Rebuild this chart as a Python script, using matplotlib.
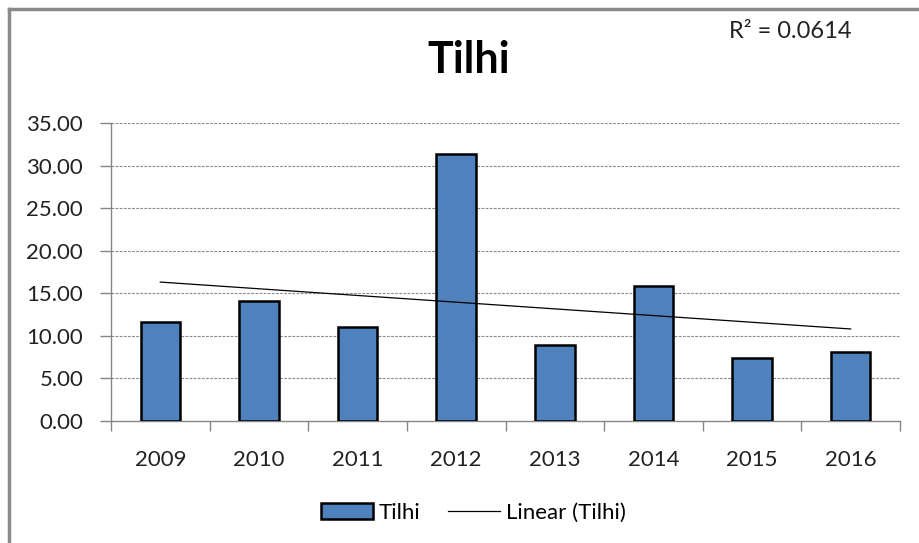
import numpy as np
import matplotlib.pyplot as plt
from matplotlib.lines import Line2D

# data
years = ['2009', '2010', '2011', '2012', '2013', '2014', '2015', '2016']
tilhi = [11.65, 14.1, 11.05, 31.35, 8.95, 15.85, 7.45, 8.1]
r2_label = 'R² = 0.0614'
yticks = [0, 5, 10, 15, 20, 25, 30, 35]

plt.rcParams['font.family'] = ['Lato', 'DejaVu Sans']

fig = plt.figure(figsize=(9.19, 5.43), dpi=100)
ax = fig.add_axes([111/919, 1 - 421/543, (900 - 111)/919, (421 - 123)/543])

x = np.arange(len(years))
bars = ax.bar(x, tilhi, width=0.4, color='#4F81BD', edgecolor='black',
              linewidth=1.8, zorder=3, label='Tilhi')

# linear trend, like the excel trendline
k, b = np.polyfit(x, tilhi, 1)
trend, = ax.plot(x, k * x + b, color='black', lw=0.9, zorder=4,
                 label='Linear (Tilhi)')

ax.set_xlim(-0.5, len(years) - 0.5)
ax.set_ylim(0, 35)
ax.set_yticks(yticks)
ax.set_yticklabels(['%.2f' % v for v in yticks])
ax.set_xticks(x)
ax.set_xticklabels(years)
ax.set_xticks(np.arange(-0.5, len(years)), minor=True)

ax.tick_params(axis='y', length=8, width=1, color='#868686', labelsize=16,
               pad=12, labelcolor='#222222')
ax.tick_params(axis='x', which='major', length=0, labelsize=16, pad=21,
               labelcolor='#222222')
ax.tick_params(axis='x', which='minor', length=7, width=1, color='#868686')

for yv in yticks[1:]:
    ax.axhline(yv, color='#8c8c8c', lw=0.8, ls=(0, (2.5, 1.2)), zorder=1)

for s in ['top', 'right']:
    ax.spines[s].set_visible(False)
for s in ['left', 'bottom']:
    ax.spines[s].set_color('#868686')
    ax.spines[s].set_linewidth(1)

fig.text(469/919, 1 - 60/543, 'Tilhi', ha='center', va='center',
         fontsize=31, fontweight='bold')
fig.text(790/919, 1 - 31/543, r2_label, ha='center', va='center',
         fontsize=17, color='#222222')

fig.legend(handles=[bars, trend], loc='center', bbox_to_anchor=(473/919, 1 - 513/543),
           ncol=2, frameon=False, fontsize=16, handlelength=2.35,
           handletextpad=0.25, columnspacing=1.25)

# chart area border (only left/top visible in the crop)
fig.add_artist(Line2D([9/919, 9/919], [0, 1 - 9/543], color='#8a8a8a', lw=2.5,
                      transform=fig.transFigure))
fig.add_artist(Line2D([9/919, 1], [1 - 9/543, 1 - 9/543], color='#8a8a8a', lw=2.5,
                      transform=fig.transFigure))

fig.savefig('out.png', dpi=100)
